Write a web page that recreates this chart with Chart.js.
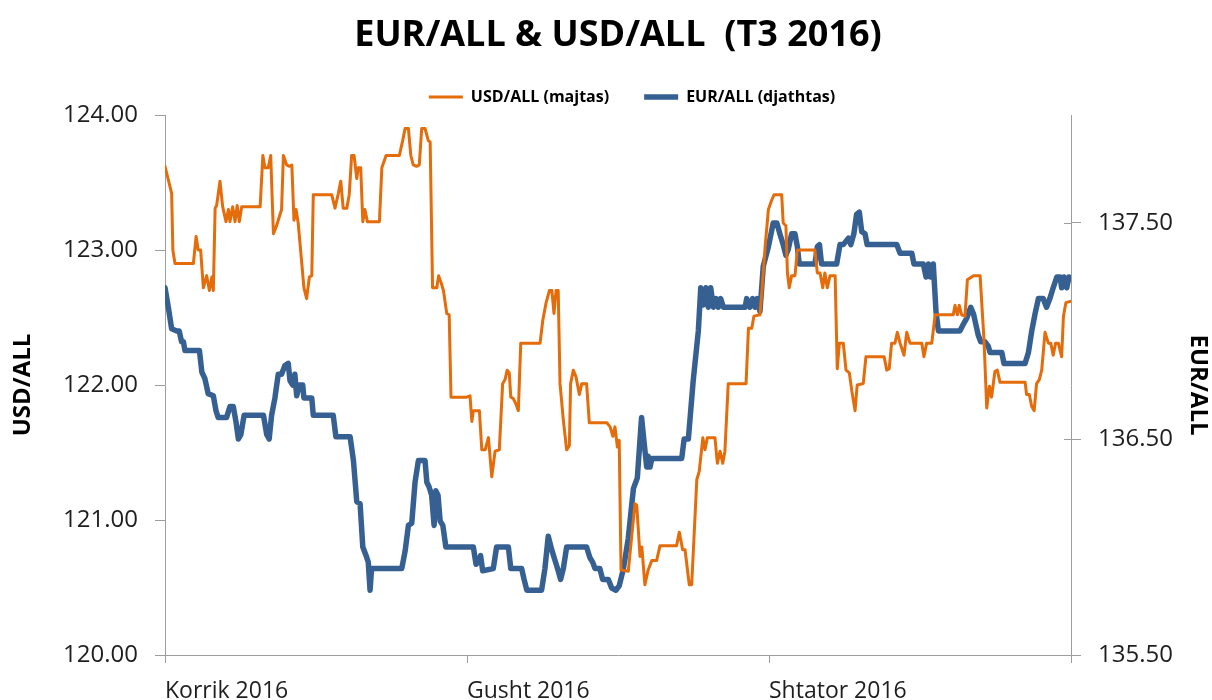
<!DOCTYPE html>
<html>
<head>
<meta charset="utf-8">
<title>EUR/ALL &amp; USD/ALL (T3 2016)</title>
<script src="https://cdn.jsdelivr.net/npm/chart.js@4/dist/chart.umd.min.js"></script>
<style>
  html, body { margin: 0; padding: 0; background: #ffffff; }
  #wrap { width: 1212px; height: 700px; }
</style>
</head>
<body>
<div id="wrap"><canvas id="c" width="1212" height="700"></canvas></div>
<script>
// ---- Data ----
const chartTitle = 'EUR/ALL & USD/ALL  (T3 2016)';
const usdLabel = 'USD/ALL (majtas)';
const eurLabel = 'EUR/ALL (djathtas)';
// x = time in months since 1 July 2016 (0 = Korrik, 1 = Gusht, 2 = Shtator, 3 = end of quarter)
const monthTicks = [0, 1, 2, 3];
const monthLabels = ['Korrik 2016', 'Gusht 2016', 'Shtator 2016', ''];
const usdTicks = [120, 121, 122, 123, 124];
const eurTicks = [135.5, 136.5, 137.5];

// USD/ALL (left axis): [time, rate]
const usdSeries = [[0,123.62],[.022,123.42],[.026,123.00],[.033,122.90],[.094,122.90],[.103,123.10],[.110,123.00],[.118,123.00],[.127,122.72],[.138,122.81],[.147,122.70],[.155,122.80],[.160,122.70],[.166,123.31],[.171,123.33],[.182,123.51],[.191,123.32],[.202,123.21],[.210,123.30],[.215,123.21],[.224,123.32],[.232,123.21],[.239,123.33],[.246,123.21],[.254,123.32],[.315,123.32],[.324,123.70],[.331,123.61],[.342,123.61],[.350,123.70],[.359,123.12],[.368,123.17],[.375,123.22],[.386,123.30],[.392,123.70],[.403,123.63],[.412,123.62],[.420,123.63],[.427,123.22],[.434,123.30],[.441,123.20],[.453,122.90],[.460,122.72],[.469,122.64],[.478,122.80],[.486,122.81],[.491,123.41],[.552,123.41],[.563,123.31],[.574,123.42],[.582,123.51],[.590,123.31],[.602,123.31],[.610,123.41],[.618,123.70],[.626,123.70],[.635,123.53],[.640,123.61],[.648,123.61],[.655,123.21],[.662,123.30],[.670,123.21],[.710,123.21],[.718,123.61],[.732,123.70],[.776,123.70],[.787,123.81],[.795,123.90],[.806,123.90],[.814,123.70],[.822,123.63],[.833,123.62],[.842,123.63],[.850,123.90],[.861,123.90],[.872,123.81],[.878,123.80],[.886,122.72],[.900,122.72],[.906,122.81],[.914,122.76],[.922,122.70],[.933,122.53],[.941,122.52],[.947,121.91],[.999,121.91],[1.010,121.92],[1.016,121.73],[1.021,121.81],[1.041,121.81],[1.049,121.52],[1.060,121.52],[1.071,121.61],[1.082,121.32],[1.093,121.51],[1.107,121.52],[1.118,122.01],[1.126,122.04],[1.133,122.11],[1.140,122.09],[1.145,121.91],[1.153,121.90],[1.162,121.86],[1.170,121.81],[1.178,122.31],[1.242,122.31],[1.251,122.48],[1.262,122.61],[1.273,122.70],[1.281,122.70],[1.288,122.53],[1.295,122.70],[1.302,122.70],[1.308,122.01],[1.319,121.74],[1.330,121.52],[1.339,121.55],[1.343,122.01],[1.352,122.11],[1.361,122.06],[1.372,121.93],[1.380,122.01],[1.396,122.01],[1.405,121.72],[1.463,121.72],[1.474,121.69],[1.483,121.62],[1.490,121.69],[1.498,121.54],[1.504,121.59],[1.510,120.63],[1.534,120.62],[1.556,121.12],[1.562,121.11],[1.573,120.73],[1.579,120.80],[1.589,120.52],[1.600,120.63],[1.612,120.70],[1.628,120.70],[1.639,120.81],[1.694,120.81],[1.703,120.91],[1.714,120.78],[1.722,120.78],[1.736,120.52],[1.744,120.52],[1.761,121.30],[1.769,121.36],[1.781,121.61],[1.788,121.52],[1.796,121.61],[1.821,121.61],[1.829,121.42],[1.838,121.51],[1.847,121.42],[1.854,121.51],[1.865,122.01],[1.924,122.01],[1.932,122.42],[1.943,122.42],[1.950,122.51],[1.970,122.52],[1.976,122.68],[1.987,123.02],[1.998,123.30],[2.009,123.37],[2.017,123.41],[2.042,123.41],[2.047,123.20],[2.056,123.18],[2.061,122.83],[2.067,122.72],[2.075,122.81],[2.086,122.81],[2.094,123.00],[2.152,123.00],[2.160,122.83],[2.169,122.83],[2.178,122.72],[2.185,122.83],[2.193,122.72],[2.202,122.81],[2.219,122.81],[2.226,122.12],[2.233,122.31],[2.246,122.31],[2.255,122.11],[2.266,122.09],[2.274,121.96],[2.285,121.81],[2.292,122.00],[2.312,122.01],[2.321,122.21],[2.381,122.21],[2.390,122.11],[2.398,122.12],[2.406,122.31],[2.417,122.31],[2.425,122.39],[2.434,122.31],[2.447,122.22],[2.456,122.39],[2.467,122.31],[2.506,122.31],[2.513,122.21],[2.522,122.31],[2.539,122.31],[2.550,122.52],[2.610,122.52],[2.616,122.59],[2.624,122.52],[2.630,122.59],[2.638,122.52],[2.649,122.51],[2.657,122.78],[2.677,122.81],[2.699,122.81],[2.712,122.33],[2.721,121.83],[2.730,121.99],[2.737,121.91],[2.748,122.10],[2.756,122.11],[2.765,122.02],[2.848,122.02],[2.853,121.93],[2.862,121.93],[2.870,121.84],[2.878,121.81],[2.886,122.01],[2.895,122.04],[2.903,122.11],[2.914,122.39],[2.925,122.31],[2.933,122.31],[2.941,122.22],[2.949,122.31],[2.958,122.31],[2.969,122.21],[2.975,122.51],[2.983,122.61],[3.000,122.62]];

// EUR/ALL (right axis): [time, rate]
const eurSeries = [[0,137.20],[.011,137.11],[.022,137.01],[.039,137.00],[.047,137.00],[.055,136.95],[.061,136.95],[.066,136.91],[.114,136.91],[.122,136.81],[.132,136.78],[.143,136.71],[.160,136.70],[.169,136.63],[.176,136.60],[.204,136.60],[.215,136.65],[.226,136.65],[.235,136.58],[.243,136.50],[.251,136.52],[.262,136.61],[.326,136.61],[.337,136.52],[.345,136.50],[.353,136.61],[.364,136.69],[.375,136.80],[.386,136.80],[.397,136.84],[.408,136.85],[.414,136.77],[.423,136.75],[.430,136.80],[.436,136.70],[.445,136.75],[.456,136.75],[.460,136.69],[.486,136.69],[.491,136.61],[.557,136.61],[.566,136.51],[.613,136.51],[.624,136.40],[.635,136.21],[.646,136.20],[.655,136.00],[.666,135.96],[.673,135.93],[.679,135.80],[.684,135.90],[.784,135.90],[.795,135.98],[.806,136.10],[.817,136.11],[.828,136.30],[.839,136.40],[.861,136.40],[.867,136.30],[.874,136.28],[.883,136.24],[.891,136.10],[.897,136.26],[.904,136.24],[.911,136.12],[.920,136.10],[.930,136.00],[1.021,136.00],[1.030,135.92],[1.037,135.93],[1.045,135.96],[1.052,135.89],[1.087,135.90],[1.098,136.00],[1.137,136.00],[1.145,135.90],[1.181,135.90],[1.189,135.85],[1.198,135.80],[1.247,135.80],[1.258,135.90],[1.269,136.05],[1.280,135.99],[1.291,135.94],[1.302,135.89],[1.310,135.85],[1.319,135.90],[1.330,136.00],[1.396,136.00],[1.407,135.95],[1.416,135.93],[1.424,135.90],[1.440,135.90],[1.449,135.85],[1.468,135.85],[1.479,135.81],[1.493,135.80],[1.504,135.82],[1.518,135.90],[1.534,136.04],[1.551,136.27],[1.564,136.32],[1.578,136.60],[1.586,136.49],[1.595,136.37],[1.600,136.42],[1.606,136.37],[1.612,136.41],[1.711,136.41],[1.719,136.50],[1.733,136.50],[1.749,136.77],[1.766,137.00],[1.774,137.20],[1.782,137.12],[1.791,137.20],[1.799,137.11],[1.807,137.20],[1.816,137.11],[1.825,137.15],[1.832,137.11],[1.840,137.15],[1.849,137.11],[1.921,137.11],[1.926,137.15],[1.937,137.11],[1.946,137.15],[1.954,137.11],[1.961,137.15],[1.970,137.09],[1.981,137.30],[1.998,137.39],[2.014,137.50],[2.026,137.50],[2.036,137.45],[2.047,137.40],[2.056,137.35],[2.064,137.38],[2.075,137.45],[2.086,137.45],[2.094,137.39],[2.100,137.31],[2.152,137.31],[2.160,137.39],[2.167,137.40],[2.174,137.31],[2.224,137.31],[2.235,137.40],[2.246,137.40],[2.263,137.43],[2.271,137.40],[2.281,137.45],[2.290,137.54],[2.299,137.55],[2.307,137.46],[2.318,137.45],[2.325,137.40],[2.423,137.40],[2.434,137.36],[2.473,137.36],[2.480,137.31],[2.511,137.31],[2.520,137.25],[2.528,137.31],[2.535,137.25],[2.544,137.31],[2.553,137.09],[2.561,137.00],[2.632,137.00],[2.643,137.03],[2.655,137.06],[2.668,137.11],[2.677,137.08],[2.685,137.03],[2.693,136.98],[2.701,136.95],[2.715,136.95],[2.726,136.93],[2.732,136.90],[2.771,136.90],[2.778,136.85],[2.848,136.85],[2.859,136.90],[2.870,137.00],[2.881,137.08],[2.892,137.15],[2.908,137.15],[2.919,137.11],[2.930,137.15],[2.941,137.20],[2.953,137.25],[2.964,137.25],[2.969,137.20],[2.977,137.25],[2.986,137.20],[2.993,137.25],[3.000,137.24]];

// ---- Styles ----
const FONT = "'Open Sans', 'DejaVu Sans', sans-serif";
const ORANGE = '#E46C0A';
const BLUE = '#376092';
const AXIS = '#9d9d9d';
const TEXT = '#1e1e1e';

const toXY = arr => arr.map(p => ({ x: p[0], y: p[1] }));

// nudge title and legend horizontally, as in the original layout
const blockShift = {
  id: 'blockShift',
  afterLayout(chart) {
    const lg = chart.legend;
    if (lg) { lg.left += 26; lg.right += 26; }
    const tb = chart.titleBlock;
    if (tb) { tb.left += 12; tb.right += 12; }
  }
};

// right axis ticks cross the axis line
const crossTicks = {
  id: 'crossTicks',
  beforeDatasetsDraw(chart) {
    const s = chart.scales.y1;
    const ctx = chart.ctx;
    ctx.save();
    ctx.strokeStyle = AXIS;
    ctx.lineWidth = 1;
    ctx.beginPath();
    s.ticks.forEach(t => {
      const py = Math.round(s.getPixelForValue(t.value)) + 0.5;
      ctx.moveTo(s.left - 7, py);
      ctx.lineTo(s.left, py);
    });
    ctx.stroke();
    ctx.restore();
  }
};

new Chart(document.getElementById('c'), {
  type: 'line',
  data: {
    datasets: [
      {
        label: usdLabel,
        data: toXY(usdSeries),
        yAxisID: 'y',
        borderColor: ORANGE,
        backgroundColor: ORANGE,
        borderWidth: 3
      },
      {
        label: eurLabel,
        data: toXY(eurSeries),
        yAxisID: 'y1',
        borderColor: BLUE,
        backgroundColor: BLUE,
        borderWidth: 5.5
      }
    ]
  },
  options: {
    responsive: false,
    devicePixelRatio: 1,
    animation: false,
    layout: { padding: 0 },
    elements: {
      point: { radius: 0, hoverRadius: 0 },
      line: { tension: 0, borderJoinStyle: 'round', borderCapStyle: 'round', fill: false }
    },
    plugins: {
      title: {
        display: true,
        text: chartTitle,
        color: '#000000',
        font: { family: FONT, size: 36, weight: 'bold', lineHeight: 1 },
        padding: { top: 18, bottom: 0 }
      },
      legend: {
        display: true,
        position: 'top',
        labels: {
          usePointStyle: true,
          pointStyle: 'line',
          pointStyleWidth: 34,
          boxHeight: 16,
          padding: 35,
          color: '#000000',
          font: { family: FONT, size: 16, weight: 'bold' }
        }
      },
      tooltip: { enabled: false }
    },
    scales: {
      x: {
        type: 'linear',
        position: 'bottom',
        min: 0,
        max: 3,
        afterBuildTicks: s => { s.ticks = monthTicks.map(v => ({ value: v })); },
        afterFit: s => { s.height = 45; },
        ticks: {
          autoSkip: false,
          maxRotation: 0,
          align: 'start',
          padding: 15,
          color: TEXT,
          font: { family: FONT, size: 23 },
          callback: (v, i) => monthLabels[i]
        },
        grid: { drawOnChartArea: false, tickLength: 8, color: AXIS, lineWidth: 1 },
        border: { color: AXIS, width: 1 }
      },
      y: {
        position: 'left',
        min: 120,
        max: 124,
        afterBuildTicks: s => { s.ticks = usdTicks.map(v => ({ value: v })); },
        afterFit: s => { s.width = 165; },
        ticks: {
          padding: 17,
          color: TEXT,
          font: { family: FONT, size: 24 },
          callback: v => Number(v).toFixed(2)
        },
        grid: { drawOnChartArea: false, tickLength: 10, color: AXIS, lineWidth: 1 },
        border: { color: AXIS, width: 1 },
        title: {
          display: true,
          text: 'USD/ALL',
          color: '#000000',
          font: { family: FONT, size: 24, weight: 'bold' },
          padding: { top: 9, bottom: 0 }
        }
      },
      y1: {
        position: 'right',
        min: 135.5,
        max: 138,
        afterBuildTicks: s => { s.ticks = eurTicks.map(v => ({ value: v })); },
        afterFit: s => { s.width = 141; },
        ticks: {
          padding: 17,
          color: TEXT,
          font: { family: FONT, size: 24 },
          callback: v => Number(v).toFixed(2)
        },
        grid: { drawOnChartArea: false, tickLength: 10, color: AXIS, lineWidth: 1 },
        border: { color: AXIS, width: 1 },
        title: {
          display: true,
          text: 'EUR/ALL',
          color: '#000000',
          font: { family: FONT, size: 24, weight: 'bold' },
          padding: { top: 0, bottom: 0 }
        }
      }
    }
  },
  plugins: [blockShift, crossTicks]
});
</script>
</body>
</html>
